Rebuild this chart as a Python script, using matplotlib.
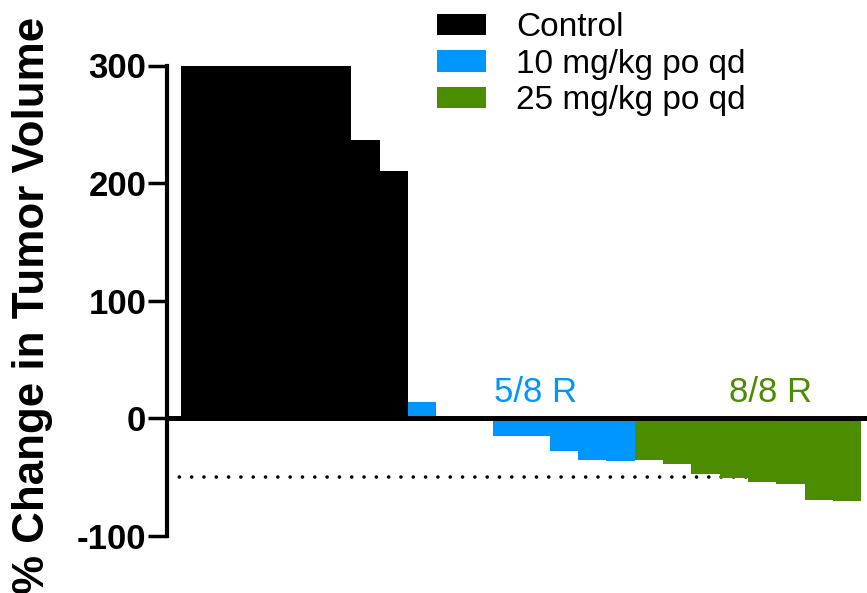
import matplotlib
matplotlib.use("Agg")
import matplotlib.pyplot as plt
from matplotlib.patches import Patch

plt.rcParams['font.family'] = ['Liberation Sans', 'DejaVu Sans']

control = [300, 300, 300, 300, 300, 300, 237, 210]
dose10 = [14, 0, 0, -15, -15, -28, -35, -36]
dose25 = [-35, -39, -47, -51, -54, -56, -69, -70]
groups = ["Control", "10 mg/kg po qd", "25 mg/kg po qd"]
colors = ["#000000", "#0096FF", "#4C8C00"]
yticks = [-100, 0, 100, 200, 300]
annot = ["5/8 R", "8/8 R"]

fig = plt.figure(figsize=(8.67, 5.93), dpi=100)
ax = fig.add_axes([167/867, 1-536/593, 1-167/867, (536-65.5)/593])

x0 = 0
handles = []
for vals, c, name in zip([control, dose10, dose25], colors, groups):
    xs = list(range(x0, x0 + len(vals)))
    ax.bar(xs, vals, width=1.0, color=c, edgecolor='none', zorder=2)
    handles.append(Patch(facecolor=c, edgecolor='none', label=name))
    x0 += len(vals)

ax.set_xlim(-1.0, 23.7)
ax.set_ylim(-100, 300)
ax.axhline(0, color='black', lw=3.6, zorder=3)
ax.axhline(-50, color='black', lw=2.6, linestyle=(0, (0.01, 3.4)),
           dash_capstyle='round', zorder=1)

for s in ['top', 'right', 'bottom']:
    ax.spines[s].set_visible(False)
ax.spines['left'].set_linewidth(3.0)
ax.set_xticks([])
ax.set_yticks(yticks)
ax.set_yticklabels([str(t) for t in yticks], fontsize=25, fontweight='bold')
ax.tick_params(axis='y', length=14, width=2.5, pad=1)

fig.text(0.038, 0.4857, "% Change in Tumor Volume", rotation=90, fontsize=31.6,
         fontweight='bold', ha='center', va='center')

ax.text(12.0, 14, annot[0], color=colors[1], fontsize=25, ha='center', va='baseline')
ax.text(20.3, 14, annot[1], color=colors[2], fontsize=25, ha='center', va='baseline')

leg = fig.legend(handles=handles, loc='upper left', bbox_to_anchor=(437/867, 1-12/593),
                 frameon=False, fontsize=24, handlelength=1.48, handleheight=0.6,
                 handletextpad=0.9, labelspacing=0.17, borderpad=0, borderaxespad=0)

fig.savefig("out.png", dpi=100)
